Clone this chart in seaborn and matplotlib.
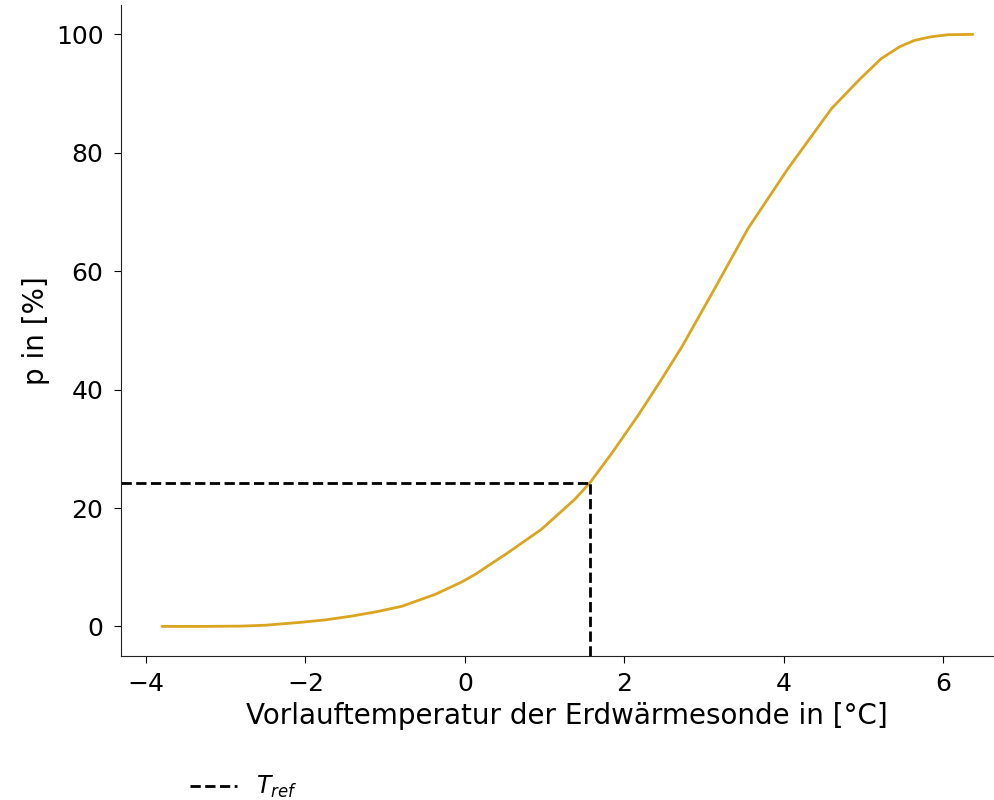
import matplotlib
matplotlib.use("Agg")
import matplotlib.pyplot as plt
import seaborn as sns
import pandas as pd
from matplotlib.lines import Line2D

# Data
temp = [-3.8, -3.3, -2.8, -2.5, -2.05, -1.75, -1.42, -1.1, -0.79, -0.375, -0.04,
        0.13, 0.545, 0.96, 1.38, 1.57, 1.85, 2.17, 2.45, 2.72, 3.13, 3.55, 4.05,
        4.6, 4.95, 5.22, 5.45, 5.64, 5.85, 6.06, 6.37]
prob = [0.0, 0.0, 0.05, 0.2, 0.7, 1.1, 1.74, 2.5, 3.4, 5.4, 7.5,
        8.8, 12.5, 16.4, 21.5, 24.3, 29.4, 35.6, 41.4, 47.2, 57.0, 67.2, 77.3,
        87.5, 92.4, 95.9, 97.9, 99.0, 99.6, 99.95, 100.0]
t_ref = 1.57
p_ref = 24.3
xlabel = "Vorlauftemperatur der Erdwärmesonde in [°C]"
ylabel = "p in [%]"
legend_label = r"$T_{ref}$"

df = pd.DataFrame({"T": temp, "p": prob})

sns.set_style("ticks")
plt.rcParams["font.family"] = ["DejaVu Sans"]
plt.rcParams["text.color"] = "black"
plt.rcParams["axes.labelcolor"] = "black"
plt.rcParams["xtick.color"] = "black"
plt.rcParams["ytick.color"] = "black"
plt.rcParams["axes.edgecolor"] = "#222222"

fig = plt.figure(figsize=(9.94, 8), dpi=100)
ax = fig.add_axes([0.122, 0.18, 0.896, 0.814])

sns.lineplot(data=df, x="T", y="p", color="#DAA520", linewidth=2, ax=ax)

xmin, xmax = -4.31, 6.86
ymin, ymax = -5, 105
ax.set_xlim(xmin, xmax)
ax.set_ylim(ymin, ymax)

ax.plot([xmin, t_ref], [p_ref, p_ref], color="black", linestyle="--", linewidth=2)
ax.plot([t_ref, t_ref], [ymin, p_ref], color="black", linestyle="--", linewidth=2)

ax.set_xticks([-4, -2, 0, 2, 4, 6])
ax.set_yticks([0, 20, 40, 60, 80, 100])
ax.tick_params(labelsize=18, length=5)
ax.tick_params(axis="x", pad=6.5)
ax.tick_params(axis="y", pad=7.8)
ax.set_xlabel(xlabel, fontsize=20)
ax.set_ylabel(ylabel, fontsize=20)
sns.despine(ax=ax)

handle = Line2D([], [], color="black", linestyle="--", linewidth=2)
fig.legend([handle], [legend_label], loc="center left", bbox_to_anchor=(0.17, 0.016),
           frameon=False, fontsize=17)

fig.savefig("out.png", dpi=100)
